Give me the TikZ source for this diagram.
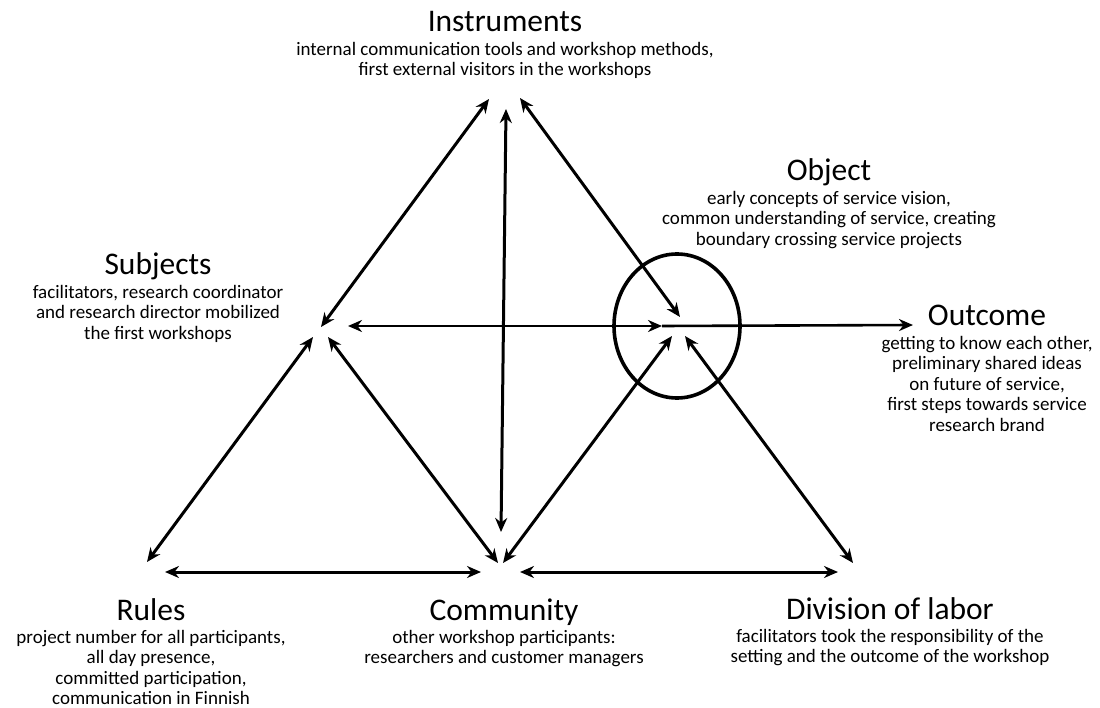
\documentclass[tikz,border=0pt]{standalone}
\usepackage{fontspec}
\setmainfont{Carlito}
\usepackage{tikz}
\usetikzlibrary{arrows.meta, positioning, shapes.geometric}
\tikzset{
    heading/.style={anchor=base, inner sep=0pt, font=\fontsize{31.5}{36}\selectfont},
    desc/.style={inner sep=0pt, align=center, font=\fontsize{19}{20.5}\selectfont},
    tip/.style={>={Stealth[length=14pt,width=12pt]}},
    link/.style={tip, line width=3pt, <->},
    onelink/.style={tip, line width=2.6pt, ->}
}

\begin{document}
\begin{tikzpicture}[x=1pt, y=-1pt]
    \useasboundingbox (0,0) rectangle (1100,708);

    % --- Labels ---
    \node[heading] (instr) at (505,32) {Instruments};
    \node[desc, below=10pt of instr.base] (instr_txt) {internal communication tools and workshop methods,\\ first external visitors in the workshops};

    \node[heading] (obj) at (829,181) {Object};
    \node[desc, below=10pt of obj.base] (obj_txt) {early concepts of service vision,\\ common understanding of service, creating\\ boundary crossing service projects};

    \node[heading] (subj) at (158,275) {Subjects};
    \node[desc, below=10pt of subj.base] (subj_txt) {facilitators, research coordinator\\ and research director mobilized\\ the first workshops};

    \node[heading] (outc) at (987,326) {Outcome};
    \node[desc, below=10pt of outc.base] (outc_txt) {getting to know each other,\\ preliminary shared ideas\\ on future of service,\\ first steps towards service\\ research brand};

    \node[heading] (rules) at (151,620) {Rules};
    \node[desc, below=10pt of rules.base] (rules_txt) {project number for all participants,\\ all day presence,\\ committed participation,\\ communication in Finnish};

    \node[heading] (comm) at (504,620) {Community};
    \node[desc, below=10pt of comm.base] (comm_txt) {other workshop participants:\\ researchers and customer managers};

    \node[heading] (div) at (890,619) {Division of labor};
    \node[desc, below=10pt of div.base] (div_txt) {facilitators took the responsibility of the\\ setting and the outcome of the workshop};

    % --- Object ring ---
    \node (obj_ring) [draw, ellipse, line width=3.6pt, inner sep=0pt, minimum width=126pt, minimum height=144pt] at (677,326) {};

    % --- Arrow ends at the corners ---
    \coordinate (s_i) at (321,327);
    \coordinate (s_o) at (348,326);
    \coordinate (s_r) at (313,337);
    \coordinate (s_c) at (328,337);
    \coordinate (i_s) at (489,99);
    \coordinate (i_c) at (506,109);
    \coordinate (i_o) at (520,98);
    \coordinate (o_i) at (680,317);
    \coordinate (o_s) at (662,326);
    \coordinate (o_c) at (672,336);
    \coordinate (o_d) at (685,336);
    \coordinate (out_end) at (913,325);
    \coordinate (r_s) at (147,562);
    \coordinate (r_c) at (165,572);
    \coordinate (c_s) at (498,563);
    \coordinate (c_i) at (501,532);
    \coordinate (c_o) at (503,563);
    \coordinate (c_r) at (481,572);
    \coordinate (c_d) at (520,572);
    \coordinate (d_o) at (853,563);
    \coordinate (d_c) at (838,572);

    % --- Connections ---
    \draw[link] (s_i) -- (i_s);
    \draw[link] (c_i) -- (i_c);
    \draw[link] (i_o) -- (o_i);
    \draw[link, line width=2.6pt] (s_o) -- (o_s);
    \draw[onelink] (o_s) -- (out_end);
    \draw[link] (r_s) -- (s_r);
    \draw[link] (s_c) -- (c_s);
    \draw[link] (c_o) -- (o_c);
    \draw[link] (o_d) -- (d_o);
    \draw[link] (r_c) -- (c_r);
    \draw[link] (c_d) -- (d_c);

\end{tikzpicture}
\end{document}
